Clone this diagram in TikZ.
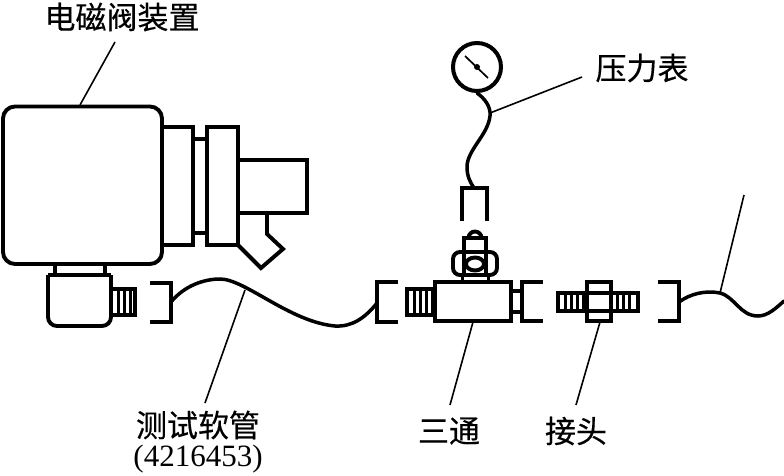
\documentclass[tikz,border=0pt]{standalone}
\usepackage{fontspec}
\usetikzlibrary{calc,positioning}
\newfontfamily\cjkfont[FakeBold=0.4]{Noto Sans CJK SC}
\setmainfont{Liberation Serif}
\tikzset{
  part/.style={line width=3.9pt,line join=miter},
  thin part/.style={line width=3pt},
  hose/.style={line width=3.5pt,line cap=round},
  leader/.style={line width=1.6pt},
  callout/.style={inner sep=0pt,font=\cjkfont\fontsize{31}{31}\selectfont},
}
\begin{document}
\begin{tikzpicture}[x=1pt,y=-1pt]
\useasboundingbox (0,0) rectangle (784,476);
% labels
\node[callout] (lblValve) at (122,17) {电磁阀装置};
\node[callout] (lblGauge) at (642,68) {压力表};
\node[callout] (lblHose) at (198,425) {测试软管};
\node[inner sep=0pt,font=\fontsize{31}{31}\selectfont] (lblCode) at (198,459) {(4216453)};
\node[callout] (lblTee) at (449,431) {三通};
\node[callout] (lblUnion) at (576,431) {接头};
% solenoid valve
\draw[part,rounded corners=12pt] (3,106.5) rectangle (162,264);
\draw[part] (162,127) -- (193,127) -- (193,245) -- (162,245);
\draw[part] (193,139) -- (207,139) (193,233) -- (207,233);
\draw[part] (207,127) rectangle (238,245);
\draw[part] (238,160) -- (307,160) -- (307,213) -- (238,213);
\draw[part] (267,213) -- (267,234) -- (283,249) -- (261,268) -- (238,245);
\draw[part] (55,264) -- (55,275) (105,264) -- (105,275);
\draw[part,rounded corners=9pt] (48,275) -- (48,326) -- (111,326) -- (111,275);
\draw[part] (48,275) -- (111,275);
\draw[part] (111,289) rectangle (135,315);
\foreach \x in {118,124,130} \draw[thin part] (\x,289) -- (\x,315);
% test hose
\draw[part] (150,283) -- (171,283) -- (171,322) -- (150,322);
\draw[part] (398,282) -- (377,282) -- (377,322) -- (398,322);
\draw[hose] (171,302) .. controls (185,285) and (205,279) .. (220,279)
  .. controls (245,279) and (290,322) .. (335,326)
  .. controls (352,327) and (365,318) .. (377,303);
% pressure gauge
\node[circle,draw,line width=4pt,minimum size=48pt,inner sep=0pt] (gauge) at (477,67) {};
\fill (gauge.center) circle (3pt);
\draw[line width=1.7pt] (465,56) -- (488,78);
\draw[hose] (gauge.south) .. controls (484,98) and (491,106) .. (490,116)
  .. controls (488,135) and (467,150) .. (467,167)
  .. controls (467,176) and (470,182) .. (474,188);
\draw[part] (462,221) -- (462,188) -- (487,188) -- (487,221);
% tee fitting
\draw[part] (435,282) rectangle (511,321);
\draw[part] (407,289) rectangle (435,315);
\foreach \x in {414,420,426,432} \draw[thin part] (\x,289) -- (\x,315);
\draw[part] (511,291) -- (522,291) (511,312) -- (522,312);
\draw[part] (543,282) -- (522,282) -- (522,321) -- (543,321);
\draw[thin part] (462,282) -- (462,275) (488,282) -- (488,275);
\draw[part,rounded corners=7pt] (453,252) rectangle (497,275);
\draw[part] (464,252) -- (464,275) (486,252) -- (486,275);
\draw[part] (475,264) ellipse (9pt and 6.5pt);
\draw[part] (464,252) -- (464,238) -- (486,238) -- (486,252);
\draw[part] (468.5,238) arc[start angle=180,end angle=0,radius=6.5pt];
% union
\draw[part] (558,293) rectangle (638,311);
\foreach \x in {565,571,577,583,617,623,629} \draw[thin part] (\x,293) -- (\x,311);
\draw[part,fill=white] (587,282) rectangle (611,321);
\draw[part] (587,293) -- (611,293) (587,311) -- (611,311);
% outlet hose
\draw[part] (658,282) -- (679,282) -- (679,321) -- (658,321);
\draw[hose] (679,302) .. controls (690,294) and (705,290) .. (720,293)
  .. controls (735,297) and (740,316) .. (758,316)
  .. controls (768,316) and (776,308) .. (784,301);
% leader lines
\coordinate (valveTip) at (115,42);
\draw[leader] (80,105) -- (valveTip);
\draw[leader] (490,113) -- (582,77);
\draw[leader] (245,290) -- (205,403);
\draw[leader] (473,322) -- (450,405);
\draw[leader] (600,322) -- (576,405);
\draw[leader] (720,293) -- (744,195);
\end{tikzpicture}
\end{document}
